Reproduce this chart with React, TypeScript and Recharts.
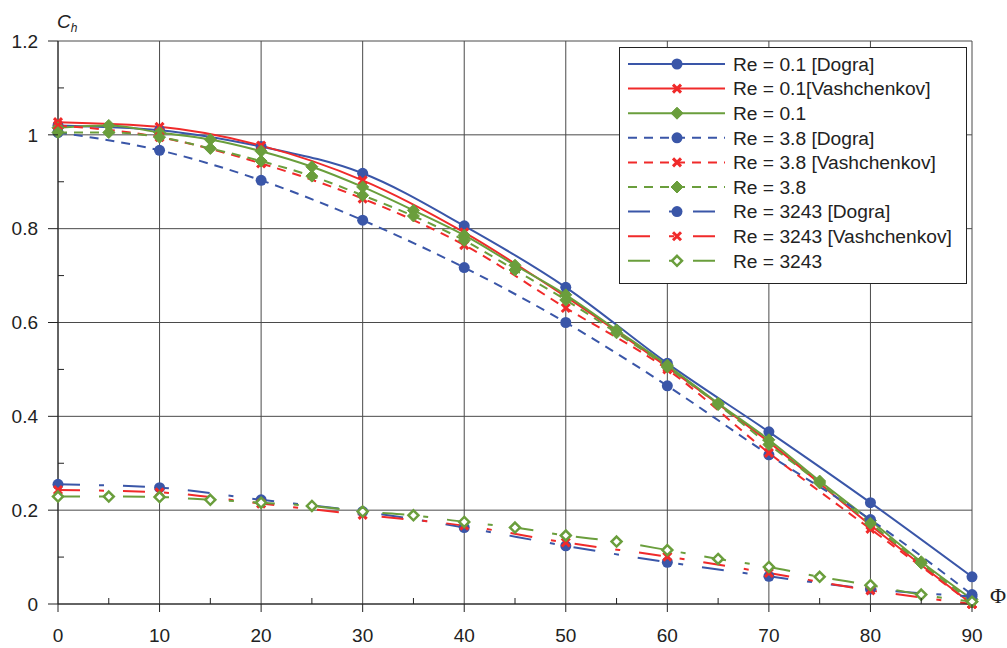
import React from 'react';
import { LineChart, Line, XAxis, YAxis, CartesianGrid } from 'recharts';

// angle positions (deg)
const phiCoarse = [0, 10, 20, 30, 40, 50, 60, 70, 80, 90];
const phiFine = [0, 5, 10, 15, 20, 25, 30, 35, 40, 45, 50, 55, 60, 65, 70, 75, 80, 85, 90];

// Re = 0.1
const dogra01 = [1.02, 1.01, 0.975, 0.918, 0.806, 0.675, 0.513, 0.367, 0.216, 0.058];
const vash01 = [1.027, 1.017, 0.977, 0.903, 0.792, 0.655, 0.505, 0.345, 0.168, 0.0];
const model01 = [1.015, 1.02, 1.005, 0.99, 0.965, 0.932, 0.889, 0.839, 0.786, 0.722, 0.659, 0.584, 0.509, 0.428, 0.35, 0.262, 0.178, 0.09, 0.01];

// Re = 3.8
const dogra38 = [1.005, 0.967, 0.903, 0.818, 0.717, 0.6, 0.465, 0.318, 0.18, 0.02];
const vash38 = [1.02, 0.995, 0.939, 0.864, 0.765, 0.631, 0.5, 0.322, 0.16, 0.0];
const model38 = [1.005, 1.005, 0.995, 0.971, 0.944, 0.912, 0.871, 0.827, 0.775, 0.712, 0.648, 0.578, 0.505, 0.425, 0.34, 0.258, 0.172, 0.087, 0.005];

// Re = 3243
const dogra3243 = [0.255, 0.248, 0.222, 0.197, 0.163, 0.124, 0.089, 0.059, 0.032, 0.016];
const vash3243 = [0.243, 0.238, 0.214, 0.19, 0.167, 0.131, 0.101, 0.066, 0.029, 0.0];
const model3243 = [0.229, 0.229, 0.228, 0.222, 0.216, 0.209, 0.197, 0.189, 0.175, 0.163, 0.146, 0.133, 0.115, 0.096, 0.079, 0.058, 0.04, 0.02, 0.005];

const xTicks = [0, 10, 20, 30, 40, 50, 60, 70, 80, 90];
const xMinorTicks = [5, 15, 25, 35, 45, 55, 65, 75, 85];
const yTicks = [0, 0.2, 0.4, 0.6, 0.8, 1, 1.2];
const yMinorTicks = [0.1, 0.3, 0.5, 0.7, 0.9, 1.1];

const X_MAX = 90;
const Y_MAX = 1.2;

const BLUE = '#3a56a8';
const RED = '#f02a2a';
const GREEN = '#6a9e3c';
const INK = '#222';

const SOLID = undefined;
const DASHED = '9 7';
const LONGDASH = '22 19 5 19';

type Marker = 'circle' | 'cross' | 'diamond' | 'hollow';

const toPoints = (xs: number[], ys: number[]) => xs.map((x, i) => ({ phi: x, ch: ys[i] }));

const series: { name: string; color: string; dash?: string; marker: Marker; data: { phi: number; ch: number }[] }[] = [
  { name: 'Re = 0.1 [Dogra]', color: BLUE, dash: SOLID, marker: 'circle', data: toPoints(phiCoarse, dogra01) },
  { name: 'Re = 0.1[Vashchenkov]', color: RED, dash: SOLID, marker: 'cross', data: toPoints(phiCoarse, vash01) },
  { name: 'Re = 0.1', color: GREEN, dash: SOLID, marker: 'diamond', data: toPoints(phiFine, model01) },
  { name: 'Re = 3.8 [Dogra]', color: BLUE, dash: DASHED, marker: 'circle', data: toPoints(phiCoarse, dogra38) },
  { name: 'Re = 3.8 [Vashchenkov]', color: RED, dash: DASHED, marker: 'cross', data: toPoints(phiCoarse, vash38) },
  { name: 'Re = 3.8', color: GREEN, dash: DASHED, marker: 'diamond', data: toPoints(phiFine, model38) },
  { name: 'Re = 3243 [Dogra]', color: BLUE, dash: LONGDASH, marker: 'circle', data: toPoints(phiCoarse, dogra3243) },
  { name: 'Re = 3243 [Vashchenkov]', color: RED, dash: LONGDASH, marker: 'cross', data: toPoints(phiCoarse, vash3243) },
  { name: 'Re = 3243', color: GREEN, dash: LONGDASH, marker: 'hollow', data: toPoints(phiFine, model3243) },
];

const MarkerShape = ({ kind, color, cx, cy }: { kind: Marker; color: string; cx: number; cy: number }) => {
  if (kind === 'circle') return <circle cx={cx} cy={cy} r={5.5} fill={color} />;
  if (kind === 'cross') {
    const d = 4;
    return (
      <path
        d={`M${cx - d},${cy - d}L${cx + d},${cy + d}M${cx - d},${cy + d}L${cx + d},${cy - d}`}
        stroke={color}
        strokeWidth={3}
        fill="none"
      />
    );
  }
  const s = kind === 'hollow' ? 5 : 6;
  const pts = `${cx},${cy - s} ${cx + s},${cy} ${cx},${cy + s} ${cx - s},${cy}`;
  return kind === 'hollow' ? (
    <polygon points={pts} fill="#fff" stroke={color} strokeWidth={2.5} />
  ) : (
    <polygon points={pts} fill={color} stroke={color} strokeWidth={1} />
  );
};

const makeDot = (kind: Marker, color: string) => (props: any) => {
  const { cx, cy, index } = props;
  if (cx == null || cy == null) return <g key={`d-${index}`} />;
  return (
    <g key={`d-${index}`}>
      <MarkerShape kind={kind} color={color} cx={cx} cy={cy} />
    </g>
  );
};

const font = '"Liberation Sans", Arial, sans-serif';

const allX = [...xTicks, ...xMinorTicks].sort((a, b) => a - b);
const allY = [...yTicks, ...yMinorTicks].sort((a, b) => a - b);

// major ticks: outward line + label, minor ticks: short inward line
const XTick = (props: any) => {
  const { x, y, payload } = props;
  const v = payload.value;
  if (xMinorTicks.includes(v)) return <line x1={x} x2={x} y1={y} y2={y - 6} stroke={INK} />;
  return (
    <g>
      <line x1={x} x2={x} y1={y} y2={y + 8} stroke={INK} />
      <text x={x} y={y + 37.5} textAnchor="middle" fontSize={19} fontFamily={font} fill={INK}>
        {v}
      </text>
    </g>
  );
};

const YTick = (props: any) => {
  const { x, y, payload } = props;
  const v = payload.value;
  if (yMinorTicks.includes(v)) return <line x1={x} x2={x + 6} y1={y} y2={y} stroke={INK} />;
  return (
    <g>
      <line x1={x - 10} x2={x} y1={y} y2={y} stroke={INK} />
      <text x={x - 20} y={y + 6.8} textAnchor="end" fontSize={19} fontFamily={font} fill={INK}>
        {String(v)}
      </text>
    </g>
  );
};

// grid only at the major ticks
const gridX = (p: any) => {
  const sc = p && p.xAxis && p.xAxis.scale;
  if (typeof sc === 'function') return xTicks.map((t) => sc(t));
  const o = p.offset;
  return xTicks.map((t) => o.left + (t / X_MAX) * o.width);
};
const gridY = (p: any) => {
  const sc = p && p.yAxis && p.yAxis.scale;
  if (typeof sc === 'function') return yTicks.map((t) => sc(t));
  const o = p.offset;
  return yTicks.map((t) => o.top + (1 - t / Y_MAX) * o.height);
};

const App = () => {
  const legendTop = 47;
  const rowH = 24.6;
  return (
    <div style={{ position: 'absolute', left: 0, top: 0, width: 1007, height: 648, background: '#fff', fontFamily: font }}>
      <LineChart width={1007} height={648} margin={{ top: 41, right: 35, bottom: 4, left: 8 }}>
        <CartesianGrid
          stroke="#4a4a4a"
          strokeWidth={1}
          verticalCoordinatesGenerator={gridX}
          horizontalCoordinatesGenerator={gridY}
        />
        <XAxis
          type="number"
          dataKey="phi"
          domain={[0, X_MAX]}
          ticks={allX}
          interval={0}
          height={40}
          tickSize={0}
          tickMargin={0}
          tickLine={false}
          axisLine={{ stroke: INK }}
          tick={<XTick />}
        />
        <YAxis
          type="number"
          domain={[0, Y_MAX]}
          ticks={allY}
          interval={0}
          width={50}
          tickSize={0}
          tickMargin={0}
          tickLine={false}
          axisLine={{ stroke: INK }}
          tick={<YTick />}
        />
        {series.map((s) => (
          <Line
            key={s.name}
            data={s.data}
            dataKey="ch"
            type="monotone"
            stroke={s.color}
            strokeWidth={2}
            strokeDasharray={s.dash}
            dot={makeDot(s.marker, s.color)}
            activeDot={false}
            isAnimationActive={false}
          />
        ))}
      </LineChart>
      <svg width={1007} height={648} style={{ position: 'absolute', left: 0, top: 0, pointerEvents: 'none' }}>
        <text x={57} y={28} fontFamily={font} fontStyle="italic" fontSize={19} fill={INK}>
          C<tspan fontSize={12} dy={4}>h</tspan>
        </text>
        <text x={990} y={603} fontFamily='"Liberation Serif", serif' fontSize={22} fill={INK}>
          Φ
        </text>
        <rect x={619.5} y={legendTop + 0.5} width={347} height={236} fill="#fff" stroke={INK} strokeWidth={1} />
        {series.map((s, i) => {
          const cy = legendTop + 17 + i * rowH;
          return (
            <g key={s.name}>
              <line x1={628} x2={725} y1={cy} y2={cy} stroke={s.color} strokeWidth={2} strokeDasharray={s.dash} />
              <MarkerShape kind={s.marker} color={s.color} cx={677} cy={cy} />
              <text x={733} y={cy + 6.8} fontFamily={font} fontSize={19.2} fill={INK}>
                {s.name}
              </text>
            </g>
          );
        })}
      </svg>
    </div>
  );
};

export default App;
